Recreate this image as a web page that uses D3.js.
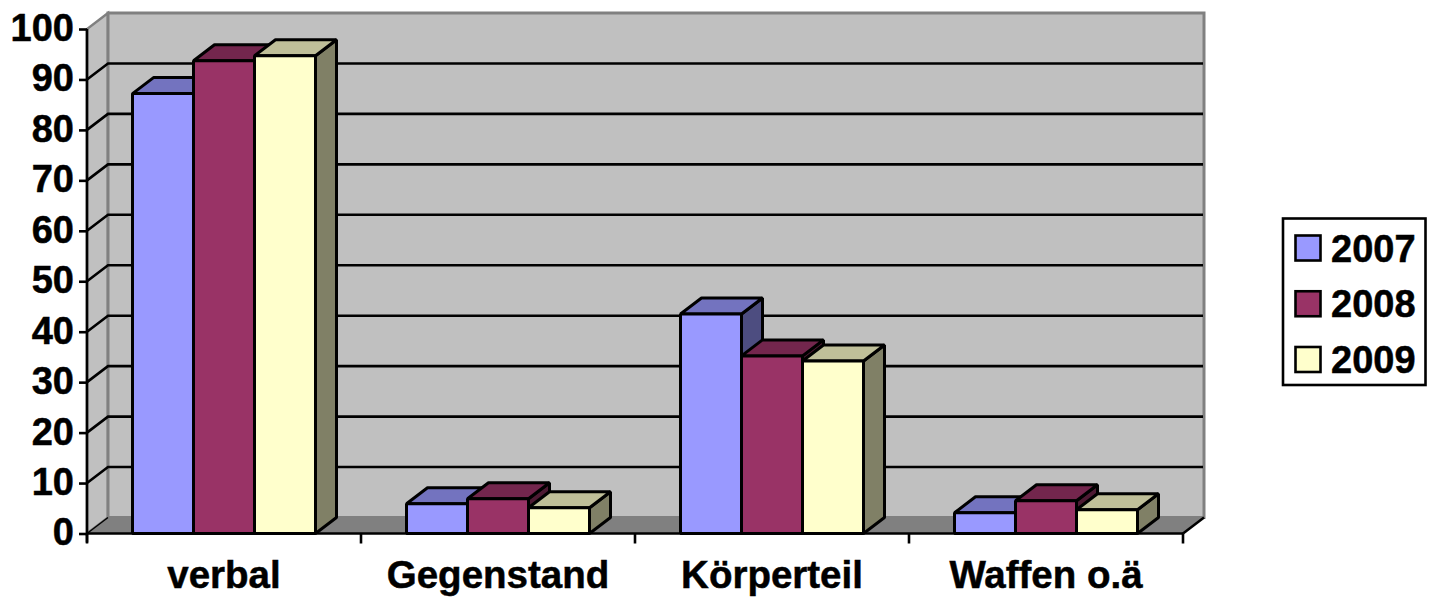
<!DOCTYPE html>
<html><head><meta charset="utf-8">
<script src="https://cdn.jsdelivr.net/npm/d3@7/dist/d3.min.js"></script>
<style>html,body{margin:0;padding:0;background:#fff}svg{display:block}text{font-family:"Liberation Sans",Arial,sans-serif;font-weight:bold;fill:#000;stroke:#000;stroke-width:0.5px}</style>
</head><body><div id="c"></div>
<script>
const categories = ["verbal","Gegenstand","Körperteil","Waffen o.ä"];
const seriesNames = ["2007","2008","2009"];
const values2007 = [87.2,5.9,43.5,4.1];
const values2008 = [93.7,6.9,35.2,6.5];
const values2009 = [94.7,5.1,34.2,4.7];
const seriesValues = [values2007,values2008,values2009];
const yTicks = [0,10,20,30,40,50,60,70,80,90,100];
const colors = ["#9999ff","#993366","#ffffcc"];
const topColors = ["#7373bf","#73264d","#bfbf99"];
const sideColors = ["#4d4d80","#4d1a33","#808066"];

const W=1432,H=597, dx=21, dy=-16;
const svg=d3.select("#c").append("svg").attr("width",W).attr("height",H);
const y=d3.scaleLinear().domain([0,100]).range([533.5,29]);
const x=d3.scaleBand().domain(categories).range([87,1183]);
const xs=d3.scaleBand().domain(seriesNames).range([45.5,228.5]);
const x0=87,x1=1183,yB=y(0),yT=y(100);
const poly=(pts)=>pts.map(p=>p.join(",")).join(" ");

// walls
svg.append("polygon").attr("points",poly([[x0,yB],[x0,yT],[x0+dx,yT+dy],[x0+dx,yB+dy]])).attr("fill","#c0c0c0").attr("stroke","#808080").attr("stroke-width",2.5);
svg.append("polygon").attr("points",poly([[x0,yB],[x1,yB],[x1+dx,yB+dy],[x0+dx,yB+dy]])).attr("fill","#808080");
svg.append("rect").attr("x",x0+dx).attr("y",yT+dy).attr("width",x1-x0).attr("height",yB-yT).attr("fill","#c0c0c0").attr("stroke","#808080").attr("stroke-width",3);

// gridlines
const grid=svg.append("g").attr("stroke","#000").attr("stroke-width",2.6).attr("fill","none");
yTicks.filter(t=>t>0&&t<100).forEach(t=>{
  grid.append("polyline").attr("points",poly([[x0,y(t)],[x0+dx,y(t)+dy],[x1+dx-1,y(t)+dy]]));
});
svg.append("line").attr("x1",x1).attr("y1",yB).attr("x2",x1+dx).attr("y2",yB+dy).attr("stroke","#000").attr("stroke-width",2.6);
svg.append("line").attr("x1",x0).attr("y1",yB).attr("x2",x0+dx).attr("y2",yB+dy).attr("stroke","#000").attr("stroke-width",1.5);

// bars
const bars=svg.append("g").attr("stroke","#000").attr("stroke-width",3).attr("stroke-linejoin","bevel");
categories.forEach((c,i)=>{
  seriesNames.forEach((s,j)=>{
    const l=x(c)+xs(s), r=l+xs.bandwidth(), t=y(seriesValues[j][i]), b=yB;
    bars.append("polygon").attr("points",poly([[r,b],[r,t],[r+dx,t+dy],[r+dx,b+dy]])).attr("fill",sideColors[j]);
    bars.append("polygon").attr("points",poly([[l,t],[r,t],[r+dx,t+dy],[l+dx,t+dy]])).attr("fill",topColors[j]);
    bars.append("rect").attr("x",l).attr("y",t).attr("width",r-l).attr("height",b-t).attr("fill",colors[j]);
  });
});

// axes
const yAxis=d3.axisLeft(y).tickValues(yTicks).tickSize(8).tickPadding(5);
const gy=svg.append("g").attr("transform",`translate(${x0},0)`).call(yAxis);
gy.selectAll(".domain").attr("stroke","#000").attr("stroke-width",2.6).attr("d",`M0,${yT}V${yB+9}`);
gy.selectAll(".tick line").attr("stroke","#000").attr("stroke-width",2.6);
gy.selectAll("text").style("font-size","38px").style("font-family",'"Liberation Sans"').style("font-weight","bold").attr("fill","#000").attr("dy","0.3em");

const xAxis=d3.axisBottom(x).tickSize(0).tickPadding(27);
const gx=svg.append("g").attr("transform",`translate(0,${yB})`).call(xAxis);
gx.selectAll(".domain").attr("stroke","#000").attr("stroke-width",2.6).attr("d",`M${x0},0H${x1}`);
gx.selectAll("text").style("font-size","38.5px").style("font-family",'"Liberation Sans"').style("font-weight","bold").attr("fill","#000");
const sep=svg.append("g").attr("stroke","#000").attr("stroke-width",2.6);
categories.concat([null]).forEach(c=>{
  const px=c===null?x1:x(c);
  sep.append("line").attr("x1",px).attr("x2",px).attr("y1",yB).attr("y2",yB+10);
});

// legend
svg.append("rect").attr("x",1283).attr("y",218.5).attr("width",142.5).attr("height",166.5).attr("fill","#fff").attr("stroke","#000").attr("stroke-width",2.6);
const legendY=d3.scalePoint().domain(seriesNames).range([248,359.5]);
seriesNames.forEach((s,j)=>{
  svg.append("rect").attr("x",1295.5).attr("y",legendY(s)-12.5).attr("width",25).attr("height",25).attr("fill",colors[j]).attr("stroke","#000").attr("stroke-width",2.6);
  svg.append("text").attr("x",1331).attr("y",legendY(s)).attr("dy","0.36em").style("font-size","38px").text(s);
});
</script></body></html>
